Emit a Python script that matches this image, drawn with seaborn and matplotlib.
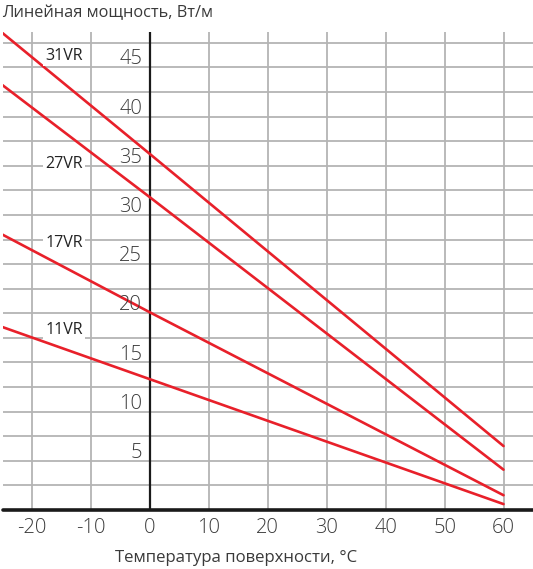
import matplotlib.pyplot as plt
import seaborn as sns
import pandas as pd

# values
temps = [-25, 0, 60]
models = ['31VR', '27VR', '17VR', '11VR']
power_31vr = [48.5, 36.2, 6.5]
power_27vr = [43.2, 31.8, 4.1]
power_17vr = [28.0, 20.1, 1.5]
power_11vr = [18.6, 13.3, 0.6]
label_y = [46.2, 35.2, 27.1, 18.3]

x_ticks = [-20, -10, 0, 10, 20, 30, 40, 50, 60]
y_ticks = [5, 10, 15, 20, 25, 30, 35, 40, 45]

sns.set_style('white')
plt.rcParams['font.family'] = ['Open Sans', 'DejaVu Sans']

rows = []
for name, vals in zip(models, [power_31vr, power_27vr, power_17vr, power_11vr]):
    for t, v in zip(temps, vals):
        rows.append({'model': name, 't': t, 'q': v})
df = pd.DataFrame(rows)

red = '#e8202a'
text_col = '#3a3a3a'

fig = plt.figure(figsize=(5.33, 5.69), dpi=100)
ax = fig.add_axes([0.0047, 0.1037, 0.9953, 0.840])

sns.lineplot(data=df, x='t', y='q', units='model', estimator=None,
             color=red, linewidth=1.9, ax=ax, zorder=3)

ax.set_xlim(-25, 65)
ax.set_ylim(0, 48.6)

# grid: every 10 on x, every 2.5 on y
for xv in x_ticks:
    ax.axvline(xv, color='#b4b4b4', lw=1.3, zorder=1)
yv = 2.5
while yv < 48.6:
    ax.axhline(yv, color='#b4b4b4', lw=1.3, zorder=1)
    yv += 2.5

ax.axvline(0, color='#1a1a1a', lw=1.6, zorder=2)
ax.axhline(0, color='#1a1a1a', lw=2.6, zorder=4, clip_on=False)

for s in ax.spines.values():
    s.set_visible(False)

ax.set_yticks([])
ax.set_xticks(x_ticks)
ax.set_xticklabels([str(v) for v in x_ticks], fontweight='light')
ax.tick_params(axis='x', length=0, pad=6, labelsize=14.5, labelcolor=text_col)
ax.set_xlabel('')
ax.set_ylabel('')

for v in y_ticks:
    ax.text(-1.3, v + 0.3, str(v), ha='right', va='baseline',
            fontsize=14.5, fontweight='light', color=text_col, zorder=5)

for name, ly in zip(models, label_y):
    ax.text(-14.6, ly, name, ha='center', va='center', fontsize=11.5,
            color='#222222', zorder=5,
            bbox=dict(facecolor='white', edgecolor='none', pad=1.5))

fig.text(0.004, 0.977, 'Линейная мощность, Вт/м', ha='left', va='center',
         fontsize=11.8, color=text_col)
fig.text(0.443, 0.019, 'Температура поверхности, °С', ha='center', va='center',
         fontsize=12.1, color=text_col)

fig.savefig('out.png', dpi=100)
